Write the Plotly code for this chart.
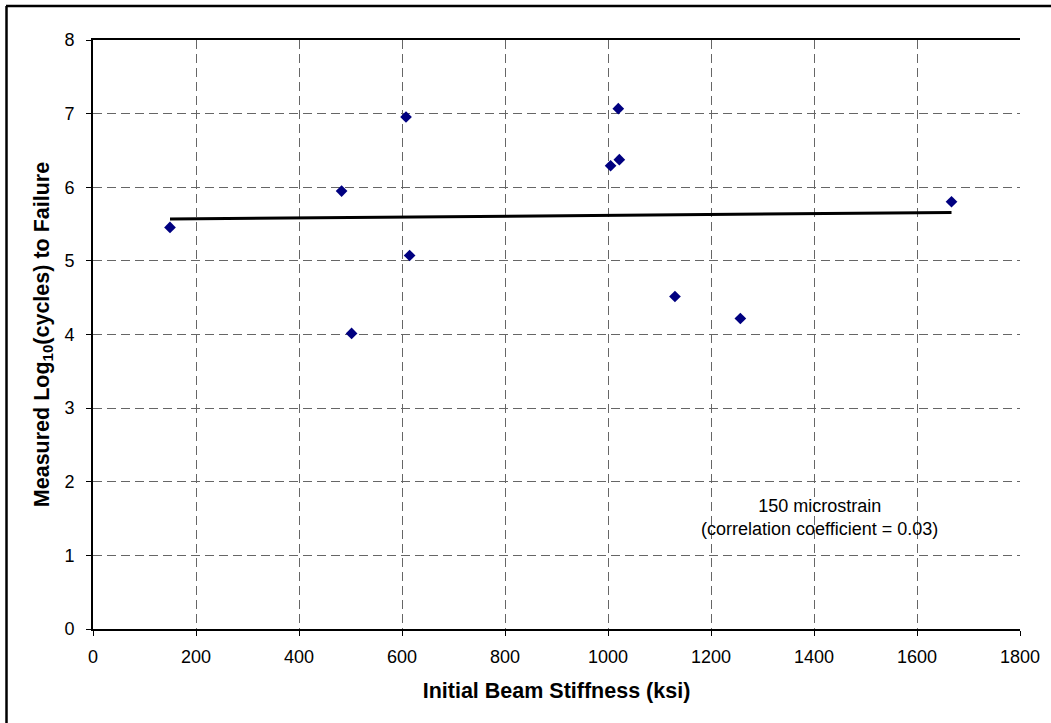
import numpy as np
import plotly.graph_objects as go

# Data
stiffness_ksi = [149.5, 482.7, 502.1, 607.8, 614.8, 1005, 1020, 1022, 1130, 1257, 1667]
log_cycles = [5.454, 5.948, 4.014, 6.954, 5.073, 6.292, 7.067, 6.374, 4.516, 4.217, 5.803]
x_ticks = [0, 200, 400, 600, 800, 1000, 1200, 1400, 1600, 1800]
y_ticks = [0, 1, 2, 3, 4, 5, 6, 7, 8]

W, H = 1051, 723
L, R, T, B = 93, 31, 40, 94
FONT = "Arial, Liberation Sans, sans-serif"

slope, intercept = np.polyfit(stiffness_ksi, log_cycles, 1)
x_fit = np.array([min(stiffness_ksi), max(stiffness_ksi)])
y_fit = slope * x_fit + intercept

fig = go.Figure()
fig.add_trace(go.Scatter(
    x=x_fit, y=y_fit, mode="lines",
    line=dict(color="black", width=3), showlegend=False, hoverinfo="skip"))
fig.add_trace(go.Scatter(
    x=stiffness_ksi, y=log_cycles, mode="markers",
    marker=dict(symbol="diamond", size=9, color="#000080"),
    showlegend=False))

grid = dict(showgrid=True, gridcolor="#666666", gridwidth=1, griddash="9px,5px")
fig.update_xaxes(range=[0, 1800], tickvals=x_ticks, ticks="outside", ticklen=5,
                 tickcolor="black", showline=True, linecolor="black", linewidth=1.5,
                 mirror=True, zeroline=False, ticklabelstandoff=6,
                 title=dict(text="<b>Initial Beam Stiffness (ksi)</b>", standoff=17,
                            font=dict(size=21.5, family=FONT, color="black")),
                 tickfont=dict(size=18, family=FONT, color="black"),
                 **grid)
fig.update_yaxes(range=[0, 8], tickvals=y_ticks, ticks="outside", ticklen=5,
                 tickcolor="black", showline=True, linecolor="black", linewidth=2,
                 zeroline=False, ticklabelstandoff=8,
                 title=dict(text="<b>Measured Log<sub>10</sub>(cycles) to Failure</b>", standoff=9,
                            font=dict(size=21.5, family=FONT, color="black")),
                 tickfont=dict(size=18, family=FONT, color="black"),
                 **grid)

fig.add_annotation(x=1410, y=1.52, xref="x", yref="y",
                   text="150 microstrain<br>(correlation coefficient = 0.03)",
                   showarrow=False, align="center",
                   font=dict(size=18, family=FONT, color="black"))

pw, ph = W - L - R, H - T - B
def px2paper_x(px):
    return (px - L) / pw
def px2paper_y(py):
    return (H - B - py) / ph

# Outer frame (top and left edges visible)
fig.add_shape(type="line", xref="paper", yref="paper",
              x0=px2paper_x(6), x1=px2paper_x(W + 5), y0=px2paper_y(6), y1=px2paper_y(6),
              line=dict(color="black", width=2.5))
fig.add_shape(type="line", xref="paper", yref="paper",
              x0=px2paper_x(6.5), x1=px2paper_x(6.5), y0=px2paper_y(6), y1=px2paper_y(H + 5),
              line=dict(color="black", width=2.5))

fig.update_layout(
    width=W, height=H,
    margin=dict(l=L, r=R, t=T, b=B),
    paper_bgcolor="white", plot_bgcolor="white",
    font=dict(family=FONT, color="black"),
)

fig.write_html("out.html")
